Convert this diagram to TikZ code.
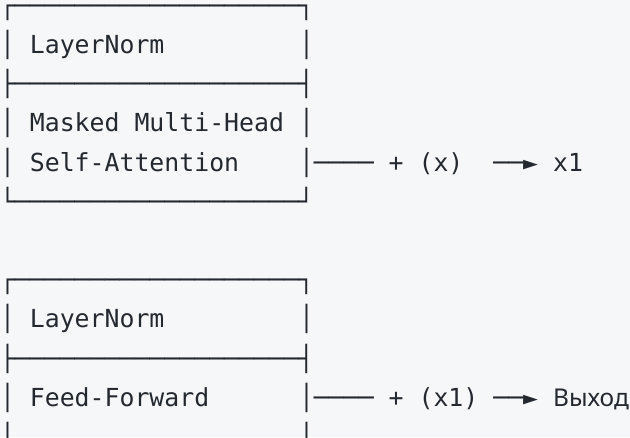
\documentclass[tikz,border=0pt]{standalone}
\usepackage{fontspec}
\setmonofont{DejaVu Sans Mono}
\newfontfamily\cyrsans{Noto Sans}
\definecolor{bg}{HTML}{F6F7F9}
\definecolor{ink}{HTML}{24292F}
% one monospace cell: 14.95 wide, rows 39.2 apart
\newcommand\cellat[4]{\node[row] (#1) at ({#2*14.95},{14.3+#3*39.2}) {#4};}
\begin{document}
\begin{tikzpicture}[x=1pt,y=-1pt,
  row/.style={anchor=base west, inner sep=0pt, outer sep=0pt, text=ink,
    font=\ttfamily\fontsize{24.83pt}{39.2pt}\selectfont}]
\fill[bg] (0,0) rectangle (630,437);
\useasboundingbox (0,0) rectangle (630,437);
% first block: LayerNorm + masked attention
\cellat{a0}{0}{0}{┌───────────────────┐}
\cellat{a1l}{0}{1}{│}
\cellat{a1t}{2}{1}{LayerNorm}
\cellat{a1r}{20}{1}{│}
\cellat{a2}{0}{2}{├───────────────────┤}
\cellat{a3l}{0}{3}{│}
\cellat{a3t}{2}{3}{Masked Multi-Head}
\cellat{a3r}{20}{3}{│}
\cellat{a4l}{0}{4}{│}
\cellat{a4t}{2}{4}{Self-Attention}
\cellat{a4r}{20}{4}{│──── + (x)}
\cellat{a4o}{33}{4}{──► x1}
\cellat{a5}{0}{5}{└───────────────────┘}
% second block: LayerNorm + feed-forward
\cellat{b0}{0}{7}{┌───────────────────┐}
\cellat{b1l}{0}{8}{│}
\cellat{b1t}{2}{8}{LayerNorm}
\cellat{b1r}{20}{8}{│}
\cellat{b2}{0}{9}{├───────────────────┤}
\cellat{b3l}{0}{10}{│}
\cellat{b3t}{2}{10}{Feed-Forward}
\cellat{b3r}{20}{10}{│──── + (x1) ──►}
\node[row, font=\cyrsans\fontsize{24.5pt}{39.2pt}\selectfont] (b3o) at ({37*14.95},{14.3+10*39.2}) {Выход};
\cellat{b4l}{0}{11}{│}
\cellat{b4r}{20}{11}{│}
\end{tikzpicture}
\end{document}
